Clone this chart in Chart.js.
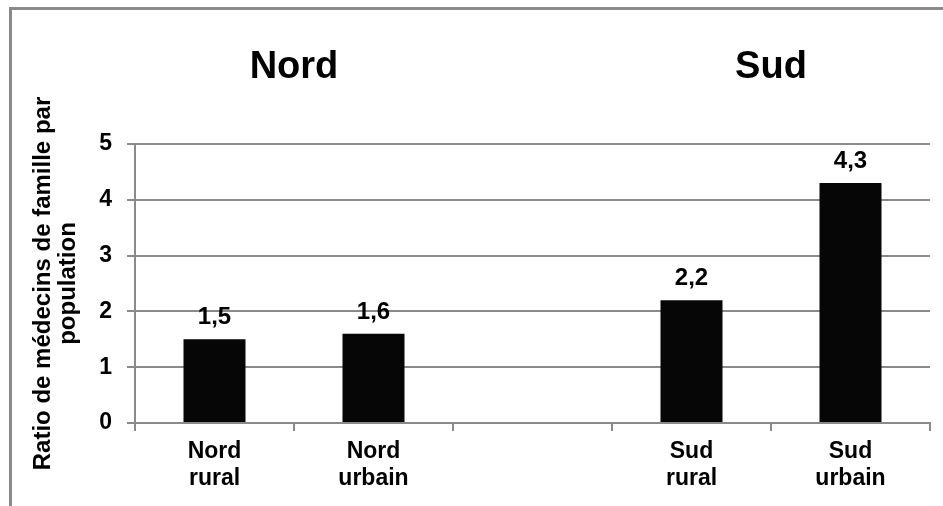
<!DOCTYPE html>
<html>
<head>
<meta charset="utf-8">
<script src="https://cdn.jsdelivr.net/npm/chart.js@4"></script>
<style>
  body { margin: 0; background: #fff; }
  canvas { display: block; }
</style>
</head>
<body>
<canvas id="myChart" width="943" height="506"></canvas>
<script>
// categories (empty slot separates the two regions)
var categories = [['Nord', 'rural'], ['Nord', 'urbain'], '', ['Sud', 'rural'], ['Sud', 'urbain']];
var ratios = [1.5, 1.6, null, 2.2, 4.3];
var groupNames = ['Nord', 'Sud'];
var groupMembers = [[0, 1], [3, 4]];
var yTitle = ['Ratio de médecins de famille par', 'population'];

var gridColor = '#8a8a8a';
var fontFamily = '"Liberation Sans", Arial, sans-serif';

// gray frame (top + left edges of the original chart box)
var framePlugin = {
    id: 'frame',
    beforeDraw: function(chart) {
        var ctx = chart.ctx;
        ctx.save();
        ctx.fillStyle = '#fff';
        ctx.fillRect(0, 0, chart.width, chart.height);
        ctx.fillStyle = gridColor;
        ctx.fillRect(9, 7, chart.width - 9, 3);
        ctx.fillRect(9, 7, 3, chart.height - 7);
        ctx.restore();
    }
};

// value labels above bars + group headings
var labelPlugin = {
    id: 'labels',
    afterDatasetsDraw: function(chart) {
        var ctx = chart.ctx;
        var xs = chart.scales.x;
        var meta = chart.getDatasetMeta(0);
        ctx.save();
        ctx.fillStyle = '#000';
        ctx.textAlign = 'center';
        ctx.textBaseline = 'alphabetic';
        ctx.font = 'bold 24px ' + fontFamily;
        meta.data.forEach(function(bar, i) {
            var v = ratios[i];
            if (v === null) return;
            ctx.fillText(v.toFixed(1).replace('.', ','), bar.x, bar.y - 15);
        });
        ctx.font = 'bold 38px ' + fontFamily;
        groupNames.forEach(function(name, g) {
            var idx = groupMembers[g];
            var x = (xs.getPixelForValue(idx[0]) + xs.getPixelForValue(idx[idx.length - 1])) / 2;
            ctx.fillText(name, x, 78);
        });
        ctx.restore();
    }
};

var ctx = document.getElementById('myChart').getContext('2d');
var myChart = new Chart(ctx, {
    type: 'bar',
    data: {
        labels: categories,
        datasets: [{
            data: ratios,
            backgroundColor: '#060606',
            categoryPercentage: 1,
            barPercentage: 0.39
        }]
    },
    options: {
        responsive: false,
        animation: false,
        devicePixelRatio: 1,
        layout: { padding: { top: 144, right: 13, left: 10, bottom: 0 } },
        plugins: {
            legend: { display: false },
            tooltip: { enabled: false }
        },
        scales: {
            x: {
                afterFit: function(scale) { scale.height = 83; },
                grid: {
                    offset: true,
                    drawOnChartArea: false,
                    color: gridColor,
                    lineWidth: 2,
                    tickLength: 8
                },
                border: { color: gridColor, width: 2 },
                ticks: {
                    color: '#000',
                    padding: 7,
                    maxRotation: 0,
                    autoSkip: false,
                    font: { family: fontFamily, size: 23, weight: 'bold', lineHeight: 1.17 }
                }
            },
            y: {
                min: 0,
                max: 5,
                afterFit: function(scale) { scale.width = 125; },
                grid: {
                    color: gridColor,
                    lineWidth: 2,
                    tickLength: 8
                },
                border: { color: gridColor, width: 2 },
                ticks: {
                    stepSize: 1,
                    color: '#000',
                    padding: 15,
                    font: { family: fontFamily, size: 23, weight: 'bold' }
                },
                title: {
                    display: true,
                    text: yTitle,
                    color: '#000',
                    padding: { top: 21, bottom: 0 },
                    font: { family: fontFamily, size: 24, weight: 'bold', lineHeight: 1.05 }
                }
            }
        }
    },
    plugins: [framePlugin, labelPlugin]
});
</script>
</body>
</html>
